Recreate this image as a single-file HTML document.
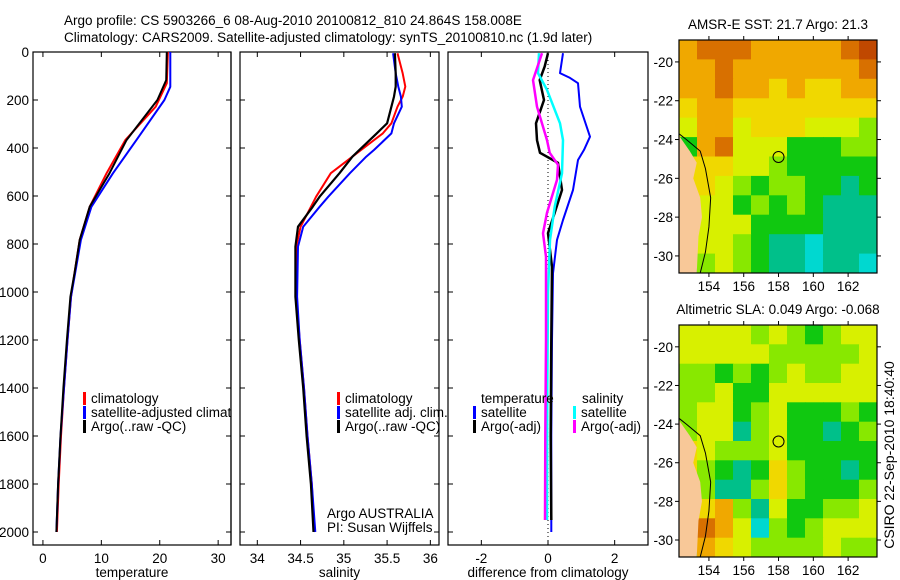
<!DOCTYPE html>
<html><head><meta charset="utf-8">
<style>
body{margin:0;background:#fff;}
svg{display:block;font-family:"Liberation Sans",sans-serif;}
text{font-size:13.5px;fill:#000;}
</style></head><body>
<svg id="c" width="900" height="580" xmlns="http://www.w3.org/2000/svg">
<text x="64" y="25">Argo profile: CS 5903266_6 08-Aug-2010 20100812_810 24.864S 158.008E</text>
<text x="64" y="42">Climatology: CARS2009. Satellite-adjusted climatology: synTS_20100810.nc (1.9d later)</text>
<text x="894" y="455" text-anchor="middle" transform="rotate(-90 894 455)" style="font-size:14px">CSIRO 22-Sep-2010 18:40:40</text>
</svg>
<script>
// ---- profile data ----
const tDepthBlack=[0,117,200,367,505,645,783,922,1020,1200,1400,1600,1800,2000];
const tempBlack=[21.2,21.1,19.6,14.3,11.4,8.0,6.3,5.4,4.7,4.1,3.5,3.0,2.6,2.3];
const tDepthBlue=[0,145,200,367,505,645,783,922,1020,1200,1400,1600,1800,2000];
const tempBlue=[21.8,21.8,20.8,16.0,12.0,8.3,6.5,5.5,4.8,4.2,3.6,3.0,2.6,2.3];
const tDepthRed=[0,130,228,367,505,645,783,922,1020,1200,1400,1600,1800,2000];
const tempRed=[21.4,21.2,19.3,14.1,10.9,8.0,6.3,5.4,4.8,4.2,3.6,3.1,2.7,2.4];
const sDepth=[5,89,144,186,228,297,339,408,436,505,603,645,728,811,1020,1200,1400,1600,1800,2000];
const salBlack=[35.59,35.6,35.6,35.58,35.55,35.5,35.38,35.18,35.1,34.95,34.72,34.64,34.47,34.44,34.44,34.48,34.53,34.57,34.62,34.65];
const salRed=[35.62,35.68,35.71,35.68,35.62,35.55,35.45,35.2,35.1,34.85,34.68,34.62,34.5,34.45,34.45,34.49,34.54,34.58,34.63,34.66];
const salBlue=[35.57,35.6,35.63,35.66,35.67,35.58,35.55,35.35,35.26,35.07,34.82,34.72,34.53,34.47,34.46,34.49,34.54,34.58,34.63,34.67];
const dDepthB=[5,88,108,130,228,353,408,450,575,700,783,922,1200,1600,2000];
const diffTempSat=[0.45,0.36,0.66,0.9,0.96,1.26,1.08,0.9,0.75,0.45,0.27,0.15,0.12,0.1,0.1];
const dDepthK=[5,60,117,200,297,367,420,462,575,670,755,895,1200,1600,1950];
const diffTempArgo=[0,-0.1,-0.25,-0.12,-0.36,-0.33,-0.24,0.3,0.42,0.2,0,0.12,0.1,0.08,0.1];
const dDepthC=[5,88,158,297,367,505,645,783,1000,1400,1950];
const diffSalSat=[-0.27,-0.3,-0.03,0.36,0.45,0.42,0.2,0.06,0.0,-0.02,-0.03];
const dDepthM=[5,117,228,367,420,470,533,670,755,853,1200,1600,1950];
const diffSalArgo=[-0.18,-0.45,-0.33,-0.03,0.05,0.3,0.27,-0.03,-0.15,-0.06,-0.06,-0.08,-0.09];
const depthTicks=[0,200,400,600,800,1000,1200,1400,1600,1800,2000];
const tempTicks=[0,10,20,30];
const salTicks=[34,34.5,35,35.5,36];
const diffTicks=[-2,0,2];
// ---- map data (color class per ~1deg cell, rows north->south) ----
const sstGrid=[
[7,8,8,8,7,7,7,7,7,8,9],[7,7,8,7,7,7,7,7,7,7,8],[7,7,8,7,7,6,7,6,6,7,7],[6,7,7,6,6,6,6,6,6,6,6],
[5,7,7,5,6,6,6,5,5,5,4],[3,7,8,5,5,5,3,3,3,4,4],[6,6,6,5,5,4,3,3,3,3,3],[6,6,5,4,3,4,4,3,3,2,3],
[6,5,5,3,4,3,4,3,2,2,2],[5,5,5,5,3,3,3,3,2,2,2],[4,5,5,4,3,2,2,1,2,2,2],[3,4,5,4,3,2,2,1,2,2,1]];
const slaGrid=[
[5,5,5,5,4,5,4,3,4,5,5],[5,5,5,5,5,4,4,4,4,4,5],[4,4,3,4,3,4,5,4,4,5,5],[4,4,5,3,3,5,5,5,5,5,5],
[4,5,5,3,4,5,3,3,3,4,3],[4,5,5,2,4,5,3,3,2,3,4],[6,5,4,4,4,5,3,3,3,3,3],[6,4,3,2,3,6,4,3,3,2,3],
[5,4,2,2,4,6,4,3,3,3,4],[3,6,7,4,2,5,3,3,4,4,5],[3,8,7,5,1,4,3,4,5,5,5],[3,7,6,5,4,4,4,4,5,4,4]];
const lonTicks=[154,156,158,160,162];
const latTicks=[-20,-22,-24,-26,-28,-30];
const landLon=[152.28,152.9,153.3,153.1,153.5,153.6,153.4,153.3,152.28];
const landLat=[-23.8,-24.6,-25.2,-26,-27,-28,-29,-30.88,-30.88];
const shelfLon=[152.28,152.7,153.5,153.8,154.1,154.0,153.8,153.5];
const shelfLat=[-23.7,-24.0,-24.6,-25.5,-27,-28.5,-29.8,-30.88];
const argoLon=158.0, argoLat=-24.9;

const palette=['#000','#00d8d0','#00c08a','#10c810','#88e800','#d8f000','#f0d800','#f0a800','#d87000','#c04800'];
const svg=document.getElementById('c');
const NS='http://www.w3.org/2000/svg';
function mk(tag,attrs,parent){const e=document.createElementNS(NS,tag);for(const k in attrs)e.setAttribute(k,attrs[k]);(parent||svg).appendChild(e);return e;}
const yD=d=>52+d*0.24;

function panel(x0,x1,xmin,xmax,ticks,label,name,showY){
  const g=mk('g',{});
  
  
  const xs=v=>x0+(v-xmin)/(xmax-xmin)*(x1-x0);
  mk('rect',{x:x0,y:52,width:x1-x0,height:493,fill:'#fff',stroke:'#000','stroke-width':1.2},g);
  ticks.forEach(t=>{const x=xs(t);
    mk('line',{x1:x,x2:x,y1:545,y2:540,stroke:'#000'},g);mk('line',{x1:x,x2:x,y1:52,y2:57,stroke:'#000'},g);
    const tx=mk('text',{x:x,y:563,'text-anchor':'middle'},g);tx.textContent=t;
    
    });
  depthTicks.forEach(d=>{const y=yD(d);
    mk('line',{x1:x0,x2:x0+5,y1:y,y2:y,stroke:'#000'},g);mk('line',{x1:x1,x2:x1-5,y1:y,y2:y,stroke:'#000'},g);
    if(showY){const tx=mk('text',{x:x0-4,y:y+5,'text-anchor':'end'},g);tx.textContent=d;
      
      }});
  const lb=mk('text',{x:(x0+x1)/2,y:577,'text-anchor':'middle'},g);lb.textContent=label;
  
  
  return {g,xs};
}
function line(p,depths,vals,color,w,name){
  const pts=depths.map((d,i)=>p.xs(vals[i]).toFixed(1)+','+yD(d).toFixed(1)).join(' ');
  const l=mk('polyline',{points:pts,fill:'none',stroke:color,'stroke-width':w,'stroke-linejoin':'round'},p.g);
  
  
}
function legend(g,x,y,color,label){
  mk('rect',{x:x,y:y-11,width:3,height:13,fill:color},g);
  const t=mk('text',{x:x+8,y:y},g);t.textContent=label;
  
  
}
const pT=panel(33,231,-1.7,32.2,tempTicks,'temperature','temperature',true);
line(pT,tDepthRed,tempRed,'#f00',2,'temp-climatology-line');
line(pT,tDepthBlue,tempBlue,'#00f',2,'temp-satellite-line');
line(pT,tDepthBlack,tempBlack,'#000',2,'temp-argo-line');
legend(pT.g,83,403,'#f00','climatology');legend(pT.g,83,417,'#00f','satellite-adjusted climatology');legend(pT.g,83,431,'#000','Argo(..raw -QC)');
mk('rect',{x:231.6,y:380,width:7.5,height:60,fill:'#fff'},pT.g);
mk('line',{x1:231,x2:231,y1:52,y2:545,stroke:'#000','stroke-width':1.2},pT.g);

const pS=panel(240,439,33.8,36.1,salTicks,'salinity','salinity',false);
line(pS,sDepth,salRed,'#f00',2,'sal-climatology-line');
line(pS,sDepth,salBlue,'#00f',2,'sal-satellite-line');
line(pS,sDepth,salBlack,'#000',2.2,'sal-argo-line');
legend(pS.g,337,403,'#f00','climatology');legend(pS.g,337,417,'#00f','satellite adj. clim.');legend(pS.g,337,431,'#000','Argo(..raw -QC)');
let t1=mk('text',{x:327,y:518},pS.g);t1.textContent='Argo AUSTRALIA';
let t2=mk('text',{x:327,y:532},pS.g);t2.textContent='PI: Susan Wijffels';

const pD=panel(448,648,-3,3,diffTicks,'difference from climatology','difference',false);
mk('line',{x1:pD.xs(0),x2:pD.xs(0),y1:52,y2:545,stroke:'#000','stroke-dasharray':'1,3'},pD.g);
line(pD,dDepthB,diffTempSat,'#00f',2,'diff-temp-satellite-line');
line(pD,dDepthK,diffTempArgo,'#000',2.5,'diff-temp-argo-line');
line(pD,dDepthC,diffSalSat,'#00ffff',2.5,'diff-sal-satellite-line');
line(pD,dDepthM,diffSalArgo,'#ff00ff',2.5,'diff-sal-argo-line');
let t3=mk('text',{x:481,y:403},pD.g);t3.textContent='temperature';
let t4=mk('text',{x:582,y:403},pD.g);t4.textContent='salinity';
legend(pD.g,473,417,'#00f','satellite');legend(pD.g,473,431,'#000','Argo(-adj)');
legend(pD.g,573,417,'#00ffff','satellite');legend(pD.g,573,431,'#ff00ff','Argo(-adj)');

function map(y0,y1,latTop,latBot,grid,title,name){
  const x0=679,x1=877,lonL=152.28,lonR=163.66;
  const g=mk('g',{});
  
  
  const xs=v=>x0+(v-lonL)/(lonR-lonL)*(x1-x0);
  const ys=v=>y0+(latTop-v)/(latTop-latBot)*(y1-y0);
  const nr=grid.length,nc=grid[0].length;
  const cw=(lonR-lonL)/nc,ch=(latTop-latBot)/nr;
  grid.forEach((row,r)=>row.forEach((v,c)=>{
    const xa=xs(lonL+c*cw),xb=xs(lonL+(c+1)*cw),ya=ys(latTop-r*ch),yb=ys(latTop-(r+1)*ch);
    const cell=mk('rect',{x:xa.toFixed(1),y:ya.toFixed(1),width:(xb-xa+0.5).toFixed(1),height:(yb-ya+0.5).toFixed(1),fill:palette[v]},g);
    
    
  }));
  mk('polygon',{points:landLon.map((l,i)=>xs(l)+','+ys(landLat[i])).join(' '),fill:'#f8c898'},g);
  mk('polyline',{points:shelfLon.map((l,i)=>xs(l)+','+ys(shelfLat[i])).join(' '),fill:'none',stroke:'#000','stroke-width':1},g);
  mk('circle',{cx:xs(argoLon),cy:ys(argoLat),r:5.5,fill:'none',stroke:'#000'},g);
  mk('rect',{x:x0,y:y0,width:x1-x0,height:y1-y0,fill:'none',stroke:'#000','stroke-width':1.2},g);
  lonTicks.forEach(l=>{const x=xs(l);mk('line',{x1:x,x2:x,y1:y1,y2:y1+4,stroke:'#000'},g);mk('line',{x1:x,x2:x,y1:y0,y2:y0-4,stroke:'#000'},g);
    const t=mk('text',{x:x,y:y1+18,'text-anchor':'middle'},g);t.textContent=l;});
  latTicks.forEach(l=>{const y=ys(l);mk('line',{x1:x0,x2:x0-4,y1:y,y2:y,stroke:'#000'},g);mk('line',{x1:x1,x2:x1+4,y1:y,y2:y,stroke:'#000'},g);
    const t=mk('text',{x:x0-6,y:y+5,'text-anchor':'end'},g);t.textContent=l;});
  const tt=mk('text',{x:(x0+x1)/2,y:y0-11,'text-anchor':'middle'},g);tt.textContent=title;
  
  
}
map(40,273,-18.87,-30.88,sstGrid,'AMSR-E SST: 21.7 Argo: 21.3','sst');
map(325,557,-18.87,-30.88,slaGrid,'Altimetric SLA: 0.049 Argo: -0.068','sla');
</script>
</body></html>
